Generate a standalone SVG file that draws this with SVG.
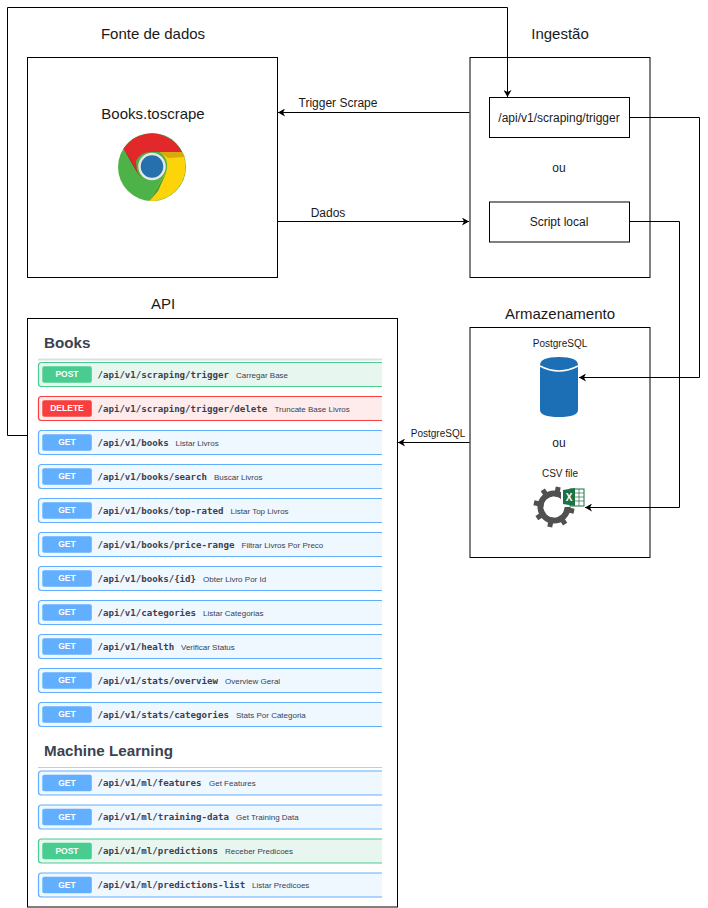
<svg xmlns="http://www.w3.org/2000/svg" width="708" height="908" viewBox="0 0 708 908">
<defs>
<style>
text{font-family:"Liberation Sans",Arial,sans-serif;fill:#1a1a1a}
.box{fill:#fff;stroke:#000;stroke-width:1}
.tb{fill:none;stroke:#000;stroke-width:1}
.c{fill:none;stroke:#000;stroke-width:1}
.t{font-size:15px;text-anchor:middle}
.s{font-size:12px;text-anchor:middle}
.x{font-size:10px;text-anchor:middle}
.h{font-size:15.200px;font-weight:bold;fill:#3b4151}
.m{font-size:8.500px;font-weight:bold;fill:#fff;text-anchor:middle}
.p{font-family:"DejaVu Sans Mono","Liberation Mono",monospace;font-size:9.100px;font-weight:bold;fill:#3b4151}
.d{font-size:8px;fill:#3b4151}
.r{stroke-width:1.200}
.rg{fill:#eff7ff;stroke:#61affe}
.rp{fill:#e8f6f0;stroke:#49cc90}
.rd{fill:#feebeb;stroke:#f93e3e}
.bg{fill:#61affe}.bp{fill:#49cc90}.bd{fill:#f93e3e}
</style>
<marker id="a" markerWidth="8" markerHeight="8" refX="7" refY="4" orient="auto" markerUnits="userSpaceOnUse"><path d="M0 0L7 4L0 8L2 4Z" fill="#000"/></marker>
<clipPath id="rows"><rect x="30" y="340" width="352" height="565"/></clipPath>
<rect id="rowg" class="r rg" x="38.500" y="-12" width="360" height="24" rx="3"/>
<rect id="rowp" class="r rp" x="38.500" y="-12" width="360" height="24" rx="3"/>
<rect id="rowd" class="r rd" x="38.500" y="-12" width="360" height="24" rx="3"/>
<rect id="btng" class="bg" x="42.300" y="-8.200" width="49.500" height="16.400" rx="2"/>
<rect id="btnp" class="bp" x="42.300" y="-8.200" width="49.500" height="16.400" rx="2"/>
<rect id="btnd" class="bd" x="42.300" y="-8.200" width="49.500" height="16.400" rx="2"/>
</defs>

<text class="t" x="153" y="38.500">Fonte de dados</text>
<text class="t" x="560" y="38.500">Ingestão</text>
<text class="t" x="163" y="309">API</text>
<text class="t" x="560" y="319">Armazenamento</text>

<g id="fonte">
<rect class="box" x="27.500" y="57.500" width="250" height="220"/>
<text class="t" x="153" y="119">Books.toscrape</text>
<g id="chrome">
<circle cx="152" cy="167" r="34" fill="#4db348"/>
<path d="M123.500 148.500A34 34 0 0 1 182 152L152 152Q140 152 136 161L137 172Z" fill="#e2282b"/>
<path d="M182 152A34 34 0 0 1 149.500 200.900L166 172Q170 160 160 152Z" fill="#fdd30a"/>
<path d="M160 152L182 152L185 157L168 158Z" fill="#d9a90c"/>
<path d="M123.500 148.500L137 172L141 178L130 158Z" fill="#b92327"/>
<path d="M149.500 201L167 171L158 191Z" fill="#3f9a42"/>
<circle cx="152" cy="166.500" r="12.500" fill="#2570ad" stroke="#e6e6e6" stroke-width="2.500"/>
</g>
</g>

<g id="ingestao">
<rect class="tb" x="470" y="57.500" width="180" height="220"/>
<text class="s" x="559" y="172">ou</text>
</g>
<g id="trigger"><rect class="box" x="489.500" y="97.500" width="140" height="40"/><text class="s" x="559" y="122">/api/v1/scraping/trigger</text></g>
<g id="script"><rect class="box" x="489.500" y="202" width="140" height="40"/><text class="s" x="559" y="226">Script local</text></g>

<g id="armazenamento">
<rect class="tb" x="470" y="327.500" width="180" height="230"/>
<text class="x" x="560" y="347">PostgreSQL</text>
<g id="cyl"><path d="M540 365Q540 357 559 357Q578 357 578 365V410Q578 417 559 417Q540 417 540 410Z" fill="#1c6fb5"/><path d="M540 366Q559 376 578 366" fill="none" stroke="#fff" stroke-width="1.500"/></g>
<text class="s" x="559" y="447">ou</text>
<text class="x" x="560" y="477">CSV file</text>
<g id="gear">
<circle cx="554" cy="507" r="13.500" fill="none" stroke="#505050" stroke-width="6"/>
<g stroke="#505050" stroke-width="5" transform="rotate(12 554 507)">
<path d="M554 486.500V527.500M533.500 507H574.500M539.500 492.500L568.500 521.500M568.500 492.500L539.500 521.500"/>
</g>
<circle cx="554" cy="507" r="10.500" fill="#fff"/>
</g>
<g id="excel"><rect x="561" y="487" width="24" height="20" fill="#fff"/><rect x="570" y="489" width="14" height="17" fill="#fff" stroke="#1e7145" stroke-width="1"/><path d="M574 493H584M574 497H584M574 501H584M579 489V506" stroke="#1e7145" stroke-width=".7"/><path d="M563 490L575 488V506L563 504Z" fill="#1e7145"/><text x="569" y="501" style="font-size:10px;font-weight:bold;fill:#fff;text-anchor:middle">X</text></g>
</g>

<g id="connectors">
<path class="c" d="M469.500 112.500H278" marker-end="url(#a)"/>
<path class="c" d="M277.500 221.500H469" marker-end="url(#a)"/>
<path class="c" d="M27 435.500H7.500V7.500H507.500V97" marker-end="url(#a)"/>
<path class="c" d="M629.500 117.500H699.500V377.500H579" marker-end="url(#a)"/>
<path class="c" d="M629.500 221.500H679.500V507.500H585" marker-end="url(#a)"/>
<path class="c" d="M469.500 442.500H398" marker-end="url(#a)"/>
<text class="s" x="338" y="107">Trigger Scrape</text>
<text class="s" x="328" y="217">Dados</text>
<text x="438" y="437" style="font-size:10px;text-anchor:middle">PostgreSQL</text>
</g>

<g id="api">
<rect class="box" x="27.500" y="318.500" width="370" height="588.500"/>
<text class="h" x="44" y="347.500">Books</text>
<path d="M38 359.500H382" stroke="#dcdfe3" stroke-width="2"/>
<text class="h" x="44" y="756">Machine Learning</text>
<path d="M38 767.500H382" stroke="#c8cbcf" stroke-width="1"/>
<g clip-path="url(#rows)">
<g transform="translate(0 374.500)"><use href="#rowp"/><use href="#btnp"/><text class="m" x="67" y="2.500">POST</text><text class="p" x="97.500" y="3">/api/v1/scraping/trigger</text><text class="d" x="236" y="3">Carregar Base</text></g>
<g transform="translate(0 408.500)"><use href="#rowd"/><use href="#btnd"/><text class="m" x="67" y="2.500">DELETE</text><text class="p" x="97.500" y="3">/api/v1/scraping/trigger/delete</text><text class="d" x="274.500" y="3">Truncate Base Livros</text></g>
<g transform="translate(0 442.500)"><use href="#rowg"/><use href="#btng"/><text class="m" x="67" y="2.500">GET</text><text class="p" x="97.500" y="3">/api/v1/books</text><text class="d" x="175.500" y="3">Listar Livros</text></g>
<g transform="translate(0 476.500)"><use href="#rowg"/><use href="#btng"/><text class="m" x="67" y="2.500">GET</text><text class="p" x="97.500" y="3">/api/v1/books/search</text><text class="d" x="214" y="3">Buscar Livros</text></g>
<g transform="translate(0 510.500)"><use href="#rowg"/><use href="#btng"/><text class="m" x="67" y="2.500">GET</text><text class="p" x="97.500" y="3">/api/v1/books/top-rated</text><text class="d" x="230.500" y="3">Listar Top Livros</text></g>
<g transform="translate(0 544.500)"><use href="#rowg"/><use href="#btng"/><text class="m" x="67" y="2.500">GET</text><text class="p" x="97.500" y="3">/api/v1/books/price-range</text><text class="d" x="241.500" y="3">Filtrar Livros Por Preco</text></g>
<g transform="translate(0 578.500)"><use href="#rowg"/><use href="#btng"/><text class="m" x="67" y="2.500">GET</text><text class="p" x="97.500" y="3">/api/v1/books/{id}</text><text class="d" x="203" y="3">Obter Livro Por Id</text></g>
<g transform="translate(0 612.500)"><use href="#rowg"/><use href="#btng"/><text class="m" x="67" y="2.500">GET</text><text class="p" x="97.500" y="3">/api/v1/categories</text><text class="d" x="203" y="3">Listar Categorias</text></g>
<g transform="translate(0 646.500)"><use href="#rowg"/><use href="#btng"/><text class="m" x="67" y="2.500">GET</text><text class="p" x="97.500" y="3">/api/v1/health</text><text class="d" x="181" y="3">Verificar Status</text></g>
<g transform="translate(0 680.500)"><use href="#rowg"/><use href="#btng"/><text class="m" x="67" y="2.500">GET</text><text class="p" x="97.500" y="3">/api/v1/stats/overview</text><text class="d" x="225" y="3">Overview Geral</text></g>
<g transform="translate(0 714.500)"><use href="#rowg"/><use href="#btng"/><text class="m" x="67" y="2.500">GET</text><text class="p" x="97.500" y="3">/api/v1/stats/categories</text><text class="d" x="236" y="3">Stats Por Categoria</text></g>
<g transform="translate(0 783)"><use href="#rowg"/><use href="#btng"/><text class="m" x="67" y="2.500">GET</text><text class="p" x="97.500" y="3">/api/v1/ml/features</text><text class="d" x="209" y="3">Get Features</text></g>
<g transform="translate(0 817)"><use href="#rowg"/><use href="#btng"/><text class="m" x="67" y="2.500">GET</text><text class="p" x="97.500" y="3">/api/v1/ml/training-data</text><text class="d" x="236" y="3">Get Training Data</text></g>
<g transform="translate(0 851)"><use href="#rowp"/><use href="#btnp"/><text class="m" x="67" y="2.500">POST</text><text class="p" x="97.500" y="3">/api/v1/ml/predictions</text><text class="d" x="225" y="3">Receber Predicoes</text></g>
<g transform="translate(0 885)"><use href="#rowg"/><use href="#btng"/><text class="m" x="67" y="2.500">GET</text><text class="p" x="97.500" y="3">/api/v1/ml/predictions-list</text><text class="d" x="252" y="3">Listar Predicoes</text></g>
</g>
</g>
</svg>
